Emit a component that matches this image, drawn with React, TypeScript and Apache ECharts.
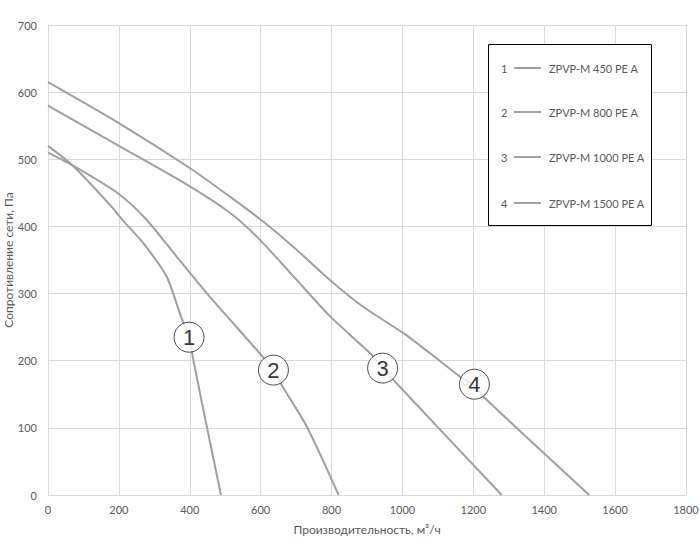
import React, { useEffect, useRef } from "react";
import * as echarts from "echarts";

const seriesNames = ["ZPVP-M 450 PE A", "ZPVP-M 800 PE A", "ZPVP-M 1000 PE A", "ZPVP-M 1500 PE A"];
const curve1: [number, number][] = [[0, 520], [71, 490], [175, 432], [208, 411], [269, 375], [335, 325], [377, 263], [398, 236], [410, 201], [448, 102], [488, 0]];
const curve2: [number, number][] = [[0, 510], [76, 489], [198, 449], [278, 410], [363, 355], [457, 295], [589, 216], [636, 186], [659, 164], [730, 102], [820, 0]];
const curve3: [number, number][] = [[0, 580], [200, 520], [399, 460], [514, 420], [598, 380], [702, 320], [796, 266], [909, 211], [946, 189], [984, 166], [1280, 0]];
const curve4: [number, number][] = [[0, 615], [200, 554], [400, 487], [514, 444], [608, 407], [702, 365], [796, 320], [890, 280], [1003, 241], [1078, 211], [1163, 176], [1200, 164], [1233, 144], [1527, 0]];
const markers: [number, number, string][] = [[398, 235, "1"], [636, 186, "2"], [944, 189, "3"], [1203, 165, "4"]];
const xName = "Производительность, м³/ч";
const yName = "Сопротивление сети, Па";

const FONT = "Lato, 'Open Sans', sans-serif";
const LINE = "#a0a0a0";

export default function App() {
  const ref = useRef<HTMLDivElement>(null);
  useEffect(() => {
    const chart = echarts.init(ref.current!, null, { renderer: "svg" });
    const curves = [curve1, curve2, curve3, curve4];
    const legendRows = [68, 112, 157, 203];
    const graphic: any[] = [
      { type: "rect", shape: { x: 488.5, y: 44.5, width: 163, height: 181 }, style: { fill: "#fff", stroke: "#000", lineWidth: 1 }, z: 10 },
    ];
    seriesNames.forEach((n, i) => {
      const y = legendRows[i];
      graphic.push({ type: "text", x: 501, y, style: { text: String(i + 1), fill: "#595959", font: `11px ${FONT}`, verticalAlign: "middle" }, z: 11 });
      graphic.push({ type: "line", shape: { x1: 514, y1: y, x2: 541, y2: y }, style: { stroke: LINE, lineWidth: 2 }, z: 11 });
      graphic.push({ type: "text", x: 549, y, style: { text: n, fill: "#595959", font: `11px ${FONT}`, verticalAlign: "middle" }, z: 11 });
    });
    chart.setOption({
      animation: false,
      grid: { left: 48, right: 14, top: 25, bottom: 65, containLabel: false, outerBoundsMode: "none" },
      xAxis: {
        type: "value", min: 0, max: 1800, interval: 200,
        name: xName, nameLocation: "middle", nameGap: 28,
        nameTextStyle: { color: "#595959", fontSize: 12, fontFamily: FONT },
        axisLine: { show: true, lineStyle: { color: "#d9d9d9" } },
        axisTick: { show: false },
        axisLabel: { color: "#595959", fontSize: 11, fontFamily: FONT, margin: 9, formatter: (v: number) => String(v) },
        splitLine: { show: true, lineStyle: { color: "#d9d9d9" } },
      },
      yAxis: {
        type: "value", min: 0, max: 700, interval: 100,
        name: yName, nameLocation: "middle", nameGap: 34, nameMoveOverlap: false,
        nameTextStyle: { color: "#595959", fontSize: 12, fontFamily: FONT },
        axisLine: { show: true, lineStyle: { color: "#d9d9d9" } },
        axisTick: { show: false },
        axisLabel: { color: "#595959", fontSize: 11, fontFamily: FONT, margin: 11, formatter: (v: number) => String(v) },
        splitLine: { show: true, lineStyle: { color: "#d9d9d9" } },
      },
      series: [
        ...curves.map((c, i) => ({
          type: "line", name: seriesNames[i], data: c, smooth: 0.25, symbol: "none",
          lineStyle: { color: LINE, width: 2 }, z: 2,
        })),
        {
          type: "scatter", data: markers.map((m) => ({ value: [m[0], m[1]], name: m[2] })),
          symbol: "circle", symbolSize: 30, z: 5,
          itemStyle: { color: "#fff", borderColor: "#222", borderWidth: 1 },
          label: { show: true, position: "inside", formatter: (p: any) => p.name, color: "#000", fontSize: 22, fontFamily: "'Liberation Sans', sans-serif" },
        },
      ],
      graphic,
    });
    return () => chart.dispose();
  }, []);
  return <div ref={ref} style={{ width: 700, height: 560, position: "absolute", left: 0, top: 0 }} />;
}
